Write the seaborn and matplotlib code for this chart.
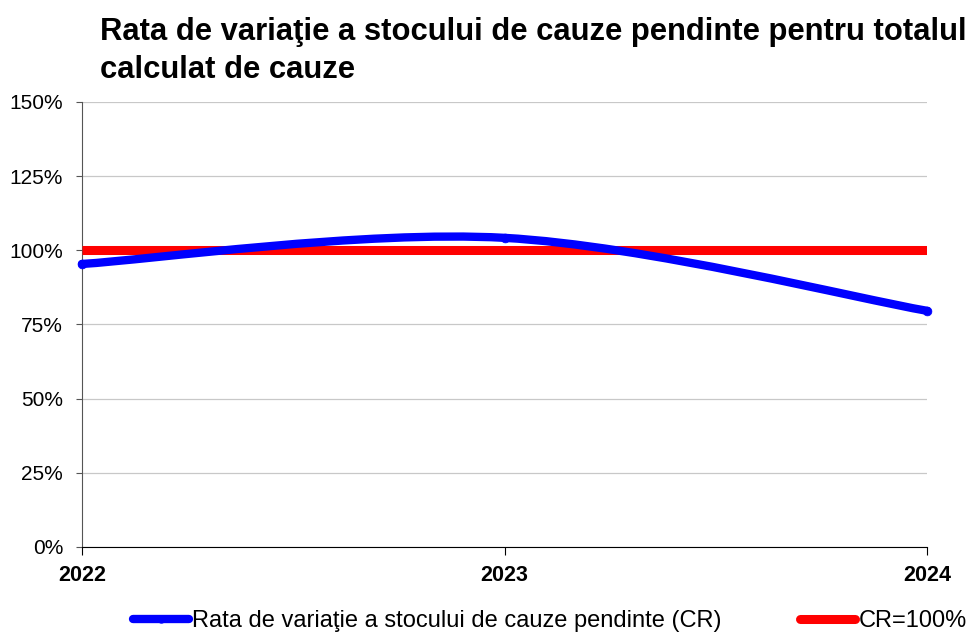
import matplotlib.pyplot as plt
import pandas as pd
import seaborn as sns
from matplotlib.lines import Line2D
from matplotlib.path import Path
from matplotlib.patches import PathPatch

YEARS = [2022, 2023, 2024]
CR_VALUES = [95.4, 104.2, 79.6]
TARGET = [100, 100, 100]
Y_TICKS = [0, 25, 50, 75, 100, 125, 150]

TITLE = "Rata de variaţie a stocului de cauze pendinte pentru totalul\ncalculat de cauze"
LABEL_CR = "Rata de variaţie a stocului de cauze pendinte (CR)"
LABEL_TARGET = "CR=100%"

BLUE = "#0000ff"
RED = "#ff0000"


def smooth_path(xs, ys):
    """Bezier path through the points, like a spreadsheet's smoothed line."""
    pts = list(zip(xs, ys))
    verts = [pts[0]]
    codes = [Path.MOVETO]
    n = len(pts)
    for i in range(n - 1):
        p0 = pts[i - 1] if i > 0 else pts[i]
        p1 = pts[i]
        p2 = pts[i + 1]
        p3 = pts[i + 2] if i + 2 < n else pts[i + 1]
        c1 = (p1[0] + (p2[0] - p0[0]) / 6, p1[1] + (p2[1] - p0[1]) / 6)
        c2 = (p2[0] - (p3[0] - p1[0]) / 6, p2[1] - (p3[1] - p1[1]) / 6)
        verts += [c1, c2, p2]
        codes += [Path.CURVE4] * 3
    return Path(verts, codes)


def main() -> None:
    sns.set_style("white")
    plt.rcParams["font.family"] = ["Liberation Sans", "DejaVu Sans"]
    plt.rcParams["text.color"] = "black"
    plt.rcParams["xtick.color"] = "black"
    plt.rcParams["ytick.color"] = "black"

    df = pd.DataFrame({"An": YEARS, "CR": CR_VALUES, "Tinta": TARGET})

    fig = plt.figure(figsize=(9.76, 6.35), dpi=100)
    ax = fig.add_axes([0.084, 0.1386, 0.866, 0.7008])

    ax.yaxis.grid(True, color="#c8c8c8", linewidth=0.9)
    ax.set_axisbelow(True)

    sns.lineplot(data=df, x="An", y="Tinta", ax=ax, color=RED,
                 linewidth=6.5, solid_capstyle="butt", zorder=3)

    patch = PathPatch(smooth_path(df["An"], df["CR"]), facecolor="none",
                      edgecolor=BLUE, linewidth=6, capstyle="round",
                      zorder=4, clip_on=False)
    ax.add_patch(patch)
    sns.scatterplot(data=df, x="An", y="CR", ax=ax, color=BLUE, s=40,
                    edgecolor=BLUE, zorder=5, clip_on=False)

    ax.set_xlim(YEARS[0], YEARS[-1])
    ax.set_ylim(0, 150)
    ax.set_xticks(YEARS)
    ax.set_xticklabels([str(y) for y in YEARS], fontsize=15.5,
                       fontweight="bold")
    ax.set_yticks(Y_TICKS)
    ax.set_yticklabels([f"{v}%" for v in Y_TICKS], fontsize=15)
    ax.set_xlabel("")
    ax.set_ylabel("")

    for side in ["top", "right"]:
        ax.spines[side].set_visible(False)
    ax.spines["left"].set_color("#555555")
    ax.spines["bottom"].set_color("#000000")
    ax.tick_params(axis="y", left=True, length=4.5, color="#555555",
                   pad=9)
    ax.tick_params(axis="x", bottom=True, length=6, color="#000000",
                   pad=7)

    fig.text(0.1025, 0.973, TITLE, fontsize=22.3, fontweight="bold",
             va="top", ha="left", linespacing=1.32)

    handles = [
        Line2D([], [], color=BLUE, linewidth=6, marker="o", markersize=5,
               solid_capstyle="round"),
        Line2D([], [], color=RED, linewidth=6.5, solid_capstyle="round"),
    ]
    fig.legend(handles, [LABEL_CR, LABEL_TARGET], loc="center",
               bbox_to_anchor=(0.5635, 0.022), ncol=2, frameon=False,
               fontsize=17, handlelength=2.35, handletextpad=0.15,
               columnspacing=3.3, borderaxespad=0, borderpad=0)

    fig.savefig("out.png", dpi=100)
    plt.close(fig)


if __name__ == "__main__":
    main()
